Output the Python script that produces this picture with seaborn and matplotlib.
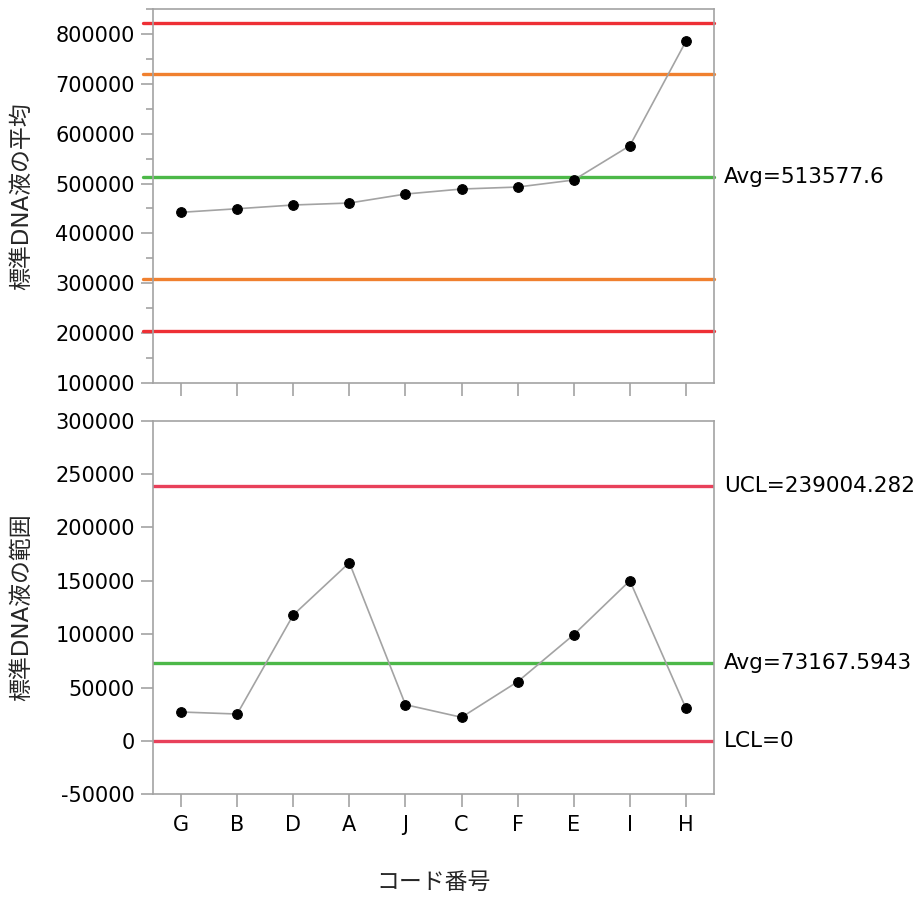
import matplotlib
matplotlib.use("Agg")
import matplotlib.pyplot as plt
import matplotlib.transforms as mtransforms
from matplotlib.ticker import MultipleLocator
import numpy as np
import pandas as pd
import seaborn as sns

# Subgroup codes in plotted order
codes = ["G", "B", "D", "A", "J", "C", "F", "E", "I", "H"]

# Subgroup means of the standard DNA solution
means = [442300, 449500, 457000, 461000, 479000, 489100, 493100, 507200, 576100, 786000]

# Subgroup ranges of the standard DNA solution
ranges = [27100, 25200, 118000, 167000, 33950, 22140, 55500, 99500, 150100, 30600]

# Control limits for the means chart
mean_avg = 513577.6
mean_ucl = 822600
mean_lcl = 204500
mean_upper_zone = 720000
mean_lower_zone = 307500

# Control limits for the range chart
range_ucl = 239004.282
range_avg = 73167.5943
range_lcl = 0

sns.set_theme(style="white")
plt.rcParams["font.family"] = ["DejaVu Sans", "Noto Sans CJK JP"]
plt.rcParams["axes.unicode_minus"] = False

GRAY = "#a3a3a3"
RED = "#ee2f35"
ORANGE = "#f0802f"
GREEN = "#4cb848"
PINK = "#e8405a"
FS = 15
FS_LABEL = 16.5
FS_NOTE = 15.5

df = pd.DataFrame({"pos": np.arange(len(codes)), "code": codes,
                   "mean": means, "range": ranges})

fig = plt.figure(figsize=(9.19, 8.97), dpi=100)
ax1 = fig.add_axes([153 / 919, 1 - 382.7 / 897, 561 / 919, (382.7 - 9) / 897])
ax2 = fig.add_axes([153 / 919, 1 - 794.3 / 897, 561 / 919, (794.3 - 420.7) / 897])


def style_axes(ax):
    for sp in ax.spines.values():
        sp.set_color(GRAY)
        sp.set_linewidth(1.2)
    ax.tick_params(axis="both", which="major", length=9, width=1.2, color=GRAY,
                   labelsize=FS, labelcolor="black", pad=4, left=True, bottom=True)
    ax.tick_params(axis="y", which="minor", length=5, width=1.2, color=GRAY, left=True)
    ax.set_xlim(-0.5, len(codes) - 0.5)
    ax.set_xticks(df["pos"])
    ax.grid(False)


def draw_series(ax, col):
    sns.lineplot(data=df, x="pos", y=col, ax=ax, color=GRAY, linewidth=1.2,
                 marker="o", markersize=7, markerfacecolor="black",
                 markeredgecolor="black", zorder=5)


# Means chart
style_axes(ax1)
ax1.set_ylim(100000, 850800)
ax1.yaxis.set_major_locator(MultipleLocator(100000))
ax1.yaxis.set_minor_locator(MultipleLocator(50000))
ax1.set_xticklabels([])
for val, c in [(mean_ucl, RED), (mean_upper_zone, ORANGE), (mean_avg, GREEN),
               (mean_lower_zone, ORANGE), (mean_lcl, RED)]:
    ax1.axhline(val, xmin=-0.018, xmax=1, color=c, linewidth=2.4,
                clip_on=False, zorder=2)
draw_series(ax1, "mean")
ax1.set_xlabel("")
ax1.set_ylabel("標準DNA液の平均", fontsize=FS_LABEL, va="center")
ax1.yaxis.set_label_coords(-0.2335, 0.5)

# Range chart
style_axes(ax2)
ax2.set_ylim(-50000, 300000)
ax2.yaxis.set_major_locator(MultipleLocator(50000))
ax2.set_xticklabels(codes)
ax2.tick_params(axis="x", pad=6)
for val, c in [(range_ucl, PINK), (range_avg, GREEN), (range_lcl, PINK)]:
    ax2.axhline(val, color=c, linewidth=2.4, zorder=2)
draw_series(ax2, "range")
ax2.set_xlabel("コード番号", fontsize=FS_LABEL, labelpad=26)
ax2.set_ylabel("標準DNA液の範囲", fontsize=FS_LABEL, va="center")
ax2.yaxis.set_label_coords(-0.2335, 0.5)

# Limit annotations on the right of each chart
offset = mtransforms.ScaledTranslation(10 / 100, 0, fig.dpi_scale_trans)
for ax, items in [(ax1, [(mean_avg, "Avg=513577.6")]),
                  (ax2, [(range_ucl, "UCL=239004.282"),
                         (range_avg, "Avg=73167.5943"),
                         (range_lcl, "LCL=0")])]:
    trans = mtransforms.blended_transform_factory(ax.transAxes, ax.transData) + offset
    for val, txt in items:
        ax.text(1.0, val, txt, transform=trans, ha="left", va="center",
                fontsize=FS_NOTE, color="black")

fig.savefig("out.png", dpi=100)
